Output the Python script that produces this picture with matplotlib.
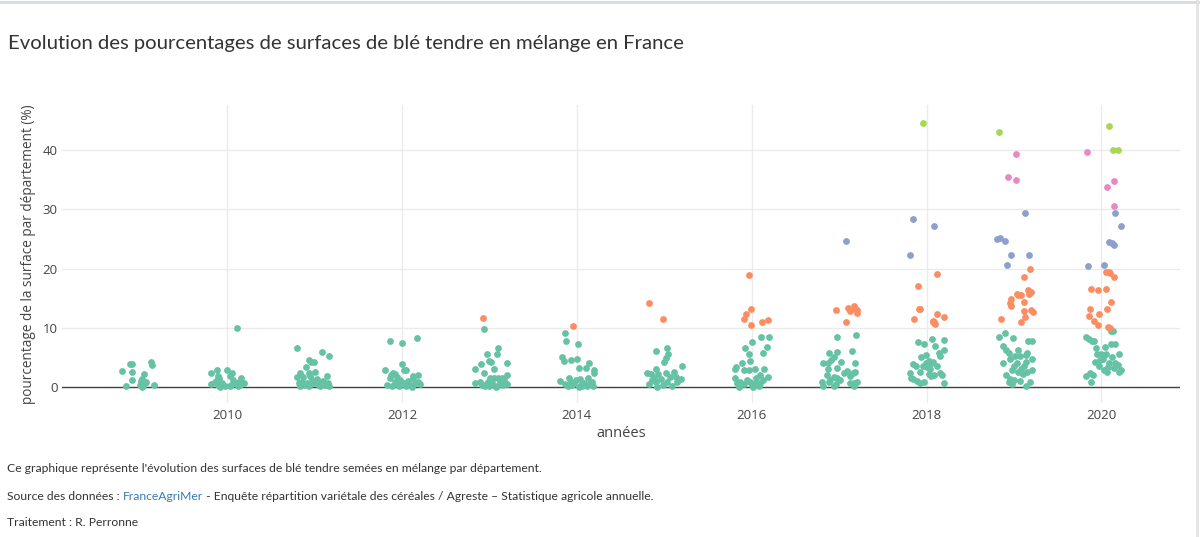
import matplotlib
matplotlib.use("Agg")
import matplotlib.pyplot as plt

# classes de pourcentage (palette Set2)
colors = {"0-10": "#66c2a5", "10-20": "#fc8d62", "20-30": "#8da0cb",
          "30-40": "#e78ac3", "40+": "#a6d854"}

years = [2009, 2010, 2011, 2012, 2013, 2014, 2015, 2016, 2017, 2018, 2019, 2020]

# (décalage horizontal, pourcentage)
g2009 = [(-0.20, 2.75), (-0.16, 0.2), (-0.11, 3.8), (-0.09, 3.8), (-0.09, 2.6), (-0.09, 1.1),
         (0.05, 2.2), (0.01, 1.0), (0.03, 1.3), (0.05, 0.8), (0.06, 0.6), (0.0, 0.4), (0.04, 0.1),
         (0.13, 4.3), (0.14, 3.7), (0.16, 0.4), (0.02, 0.0), (0.07, 0.9)]
g2010 = [(-0.19, 2.3), (-0.12, 2.8), (-0.11, 1.8), (0.0, 2.9), (0.06, 2.4), (0.11, 9.9), (0.16, 1.6),
         (0.13, 0.9), (0.19, 0.7), (0.03, 1.8), (0.07, 1.2), (-0.19, 0.5), (-0.14, 0.9), (-0.10, 0.3),
         (0.03, 0.2), (0.12, 0.1), (-0.08, 0.0), (-0.12, 1.2), (-0.09, 1.5), (-0.06, 0.6), (0.04, 0.4),
         (0.15, 0.3), (-0.03, 0.1), (0.09, 0.6)]
g2011 = [(-0.20, 6.6), (0.09, 5.9), (0.17, 5.3), (-0.07, 4.5), (-0.01, 4.2), (-0.04, 4.2), (-0.10, 3.4),
         (-0.17, 2.4), (-0.07, 2.4), (0.01, 2.6), (-0.20, 1.7), (-0.13, 1.7), (-0.05, 1.8), (0.03, 1.4),
         (0.14, 1.8), (0.08, 0.9), (-0.14, 0.9), (-0.09, 0.6), (-0.18, 0.7), (-0.01, 0.6), (0.045, 0.4),
         (0.12, 0.4), (0.16, 0.2), (-0.165, 0.2), (-0.06, 0.1), (-0.12, 0.4), (0.10, 1.0), (0.06, 0.2),
         (-0.03, 1.2), (0.15, 0.6)]
g2012 = [(-0.135, 7.7), (0.0, 7.4), (0.17, 8.2), (0.0, 3.9), (-0.19, 2.9), (0.025, 2.9), (0.05, 2.8),
         (-0.10, 2.4), (-0.13, 2.0), (-0.14, 1.5), (-0.06, 1.7), (-0.08, 0.9), (-0.02, 1.2), (0.13, 1.85),
         (0.185, 2.0), (0.18, 0.9), (0.02, 0.6), (0.09, 0.34), (0.15, 0.6), (-0.17, 0.34), (-0.115, 0.2),
         (-0.04, 0.3), (0.11, 0.06), (0.20, 0.5), (-0.05, 1.2), (-0.08, 2.2), (0.07, 1.0), (0.12, 1.5),
         (-0.03, 0.1), (0.05, 0.2)]
g2013 = [(-0.06, 9.85), (0.10, 6.6), (-0.025, 5.5), (0.09, 5.5), (-0.10, 3.9), (0.0, 4.4), (0.02, 4.3),
         (0.20, 4.05), (-0.17, 3.0), (-0.06, 2.3), (0.05, 3.1), (0.05, 1.6), (0.10, 1.6), (0.20, 2.0),
         (-0.17, 0.6), (-0.105, 0.9), (-0.01, 1.07), (0.146, 1.46), (0.17, 1.3), (0.12, 0.9), (0.03, 0.6),
         (-0.05, 0.17), (0.07, 0.06), (0.16, 0.34), (0.20, 0.5), (0.01, 1.46), (-0.08, 0.3), (0.0, 0.2),
         (0.09, 0.1), (0.13, 0.6), (-0.03, 0.7)]
g2014 = [(-0.14, 9.1), (-0.12, 7.7), (0.016, 7.3), (-0.17, 5.1), (-0.15, 4.4), (-0.07, 4.5), (0.0, 4.7),
         (0.14, 4.05), (0.03, 3.2), (0.10, 3.2), (0.195, 2.9), (0.2, 2.3), (0.13, 1.6), (0.04, 1.3),
         (-0.19, 1.07), (-0.09, 1.6), (-0.07, 0.9), (-0.007, 1.2), (0.077, 0.7), (0.15, 0.5), (-0.056, 0.34),
         (0.115, 0.17), (0.19, 0.17), (0.02, 0.06), (-0.13, 0.5), (-0.03, 0.6), (0.06, 0.2), (0.17, 0.9),
         (-0.10, 0.2), (0.05, 0.4)]
g2015 = [(0.03, 6.5), (-0.09, 6.0), (0.046, 5.5), (0.015, 4.9), (0.0, 4.3), (0.20, 3.55), (-0.10, 3.1),
         (0.11, 2.54), (-0.20, 2.43), (-0.15, 2.15), (-0.07, 2.2), (0.02, 2.4), (0.13, 1.63), (-0.12, 1.46),
         (-0.04, 1.3), (0.07, 1.63), (0.19, 1.3), (-0.175, 0.5), (-0.085, 0.06), (-0.015, 0.34), (0.09, 0.17),
         (0.145, 0.9), (0.03, 0.9), (-0.10, 0.9), (-0.14, 1.18)]
g2016 = [(0.11, 8.4), (0.20, 8.4), (0.0, 7.6), (-0.08, 6.6), (0.18, 6.8), (-0.035, 5.6), (0.13, 5.8),
         (-0.11, 4.1), (-0.015, 4.4), (-0.18, 3.3), (-0.19, 3.0), (-0.09, 2.8), (-0.03, 2.8), (0.04, 3.0),
         (0.14, 3.0), (0.09, 2.0), (0.05, 1.46), (0.13, 1.18), (0.19, 1.7), (-0.19, 1.46), (-0.13, 0.9),
         (-0.17, 0.62), (-0.055, 1.18), (0.04, 0.62), (0.08, 0.17), (0.0, 0.34), (0.10, 0.73), (-0.15, 0.06),
         (-0.09, 0.45), (0.02, 0.06), (-0.02, 0.9)]
g2017 = [(-0.025, 8.4), (0.19, 8.7), (0.15, 6.1), (-0.11, 5.7), (-0.025, 5.85), (-0.055, 5.1), (0.02, 4.2),
         (0.18, 4.0), (-0.18, 4.0), (-0.13, 4.0), (-0.09, 4.6), (-0.13, 3.0), (-0.025, 3.15), (0.09, 2.75),
         (0.06, 2.4), (0.16, 2.3), (0.185, 2.6), (-0.14, 2.0), (-0.055, 1.75), (-0.025, 1.47), (-0.10, 1.18),
         (0.015, 1.18), (0.12, 1.86), (-0.195, 0.9), (-0.11, 0.9), (-0.04, 0.51), (0.165, 0.73), (0.20, 0.9),
         (-0.18, 0.17), (-0.055, 0.17), (0.17, 0.17), (0.12, 0.62)]
g2018 = [(-0.10, 7.6), (-0.025, 7.26), (0.066, 8.05), (0.20, 7.9), (0.10, 6.9), (0.20, 6.3), (-0.06, 5.1),
         (-0.01, 5.35), (0.14, 5.8), (0.16, 5.2), (0.03, 4.45), (0.08, 4.3), (-0.01, 4.0), (0.12, 3.55),
         (-0.15, 3.9), (-0.125, 3.55), (-0.185, 2.3), (-0.18, 1.58), (0.0, 3.43), (0.03, 2.2), (0.05, 1.9),
         (0.09, 2.0), (0.18, 1.97), (-0.11, 1.07), (-0.07, 0.62), (-0.025, 0.9), (0.195, 0.62), (-0.16, 1.3),
         (0.04, 3.0), (-0.04, 3.6), (0.06, 4.0), (0.15, 2.3), (-0.08, 2.6)]
g2019 = [(-0.167, 8.45), (-0.106, 9.1), (-0.007, 8.2), (0.157, 7.7), (0.21, 7.7), (-0.13, 7.0), (-0.087, 6.25),
         (-0.06, 5.7), (0.05, 6.25), (0.15, 5.8), (0.14, 5.35), (0.21, 4.8), (0.016, 5.24), (0.073, 5.24),
         (-0.05, 4.67), (0.04, 4.1), (0.134, 4.2), (0.0, 3.55), (0.12, 3.55), (-0.13, 4.0), (0.21, 2.87),
         (0.15, 2.6), (0.10, 2.2), (0.047, 2.5), (-0.095, 2.0), (0.0, 1.18), (0.065, 0.96), (-0.06, 0.9),
         (-0.02, 0.5), (0.14, 0.17), (0.18, 0.84), (-0.04, 1.3), (0.08, 3.0), (-0.02, 2.9)]
g2020 = [(0.11, 9.5), (0.13, 9.4), (-0.17, 8.4), (-0.14, 8.05), (-0.11, 7.8), (-0.08, 7.8), (0.11, 7.26),
         (0.16, 7.26), (-0.06, 6.5), (0.04, 6.75), (-0.05, 5.6), (0.0, 5.6), (0.057, 5.5), (0.12, 5.1),
         (0.20, 5.6), (-0.02, 4.56), (0.02, 4.67), (0.09, 4.1), (0.16, 4.0), (0.19, 3.7), (-0.07, 4.3),
         (-0.03, 3.55), (0.034, 2.87), (0.08, 3.3), (0.14, 3.15), (0.20, 2.6), (0.065, 2.6), (0.22, 2.87),
         (-0.17, 1.86), (-0.13, 2.4), (-0.09, 2.0), (-0.12, 0.8)]

o2013 = [(-0.07, 11.65)]
o2014 = [(-0.04, 10.25)]
o2015 = [(-0.17, 14.2), (-0.02, 11.55)]
o2016 = [(-0.025, 18.9), (-0.06, 12.4), (-0.01, 13.2), (-0.085, 11.55), (-0.01, 10.4), (0.12, 10.9), (0.19, 11.3)]
o2017 = [(-0.03, 12.95), (0.10, 13.4), (0.12, 12.9), (0.17, 13.6), (0.20, 13.0), (0.20, 12.5), (0.075, 11.0),
         (0.18, 13.4)]
o2018 = [(0.12, 19.1), (-0.10, 17.06), (-0.09, 13.2), (-0.07, 13.1), (-0.14, 11.5), (0.12, 12.3), (0.20, 11.9),
         (0.07, 11.2), (0.09, 10.9), (0.10, 10.6), (0.07, 10.9)]
o2019 = [(0.18, 19.9), (0.115, 18.6), (0.16, 16.3), (0.19, 16.0), (0.17, 15.65), (0.03, 15.65), (0.08, 15.5),
         (0.05, 15.6), (-0.03, 14.9), (0.11, 14.4), (-0.05, 14.1), (-0.03, 13.7), (0.115, 12.8), (0.19, 12.95),
         (0.215, 12.7), (0.13, 11.9), (0.085, 11.0), (-0.145, 11.4)]
o2020 = [(0.055, 19.4), (0.083, 19.4), (0.10, 19.3), (0.14, 18.6), (-0.12, 16.6), (-0.04, 16.4), (0.057, 16.6),
         (0.11, 14.3), (-0.13, 13.2), (-0.03, 12.4), (0.06, 13.2), (-0.145, 12.0), (-0.08, 11.2), (-0.04, 10.4),
         (0.076, 10.05), (0.095, 9.9)]

b2017 = [(0.08, 24.7)]
b2018 = [(-0.15, 28.4), (0.09, 27.25), (-0.185, 22.2)]
b2019 = [(0.13, 29.3), (-0.19, 24.9), (-0.155, 25.2), (-0.10, 24.6), (-0.03, 22.2), (0.17, 22.3), (-0.08, 20.6)]
b2020 = [(0.16, 29.4), (0.22, 27.2), (0.085, 24.5), (0.12, 24.3), (0.15, 24.0), (-0.15, 20.5), (0.03, 20.65)]

p2019 = [(0.02, 39.3), (-0.07, 35.4), (0.02, 35.0)]
p2020 = [(-0.165, 39.7), (0.15, 34.8), (0.07, 33.7), (0.14, 30.5)]

l2018 = [(-0.04, 44.5)]
l2019 = [(-0.165, 43.1)]
l2020 = [(0.09, 44.0), (0.13, 40.0), (0.19, 40.0)]

series = [
    ("0-10", {2009: g2009, 2010: g2010, 2011: g2011, 2012: g2012, 2013: g2013, 2014: g2014,
              2015: g2015, 2016: g2016, 2017: g2017, 2018: g2018, 2019: g2019, 2020: g2020}),
    ("10-20", {2013: o2013, 2014: o2014, 2015: o2015, 2016: o2016, 2017: o2017, 2018: o2018,
               2019: o2019, 2020: o2020}),
    ("20-30", {2017: b2017, 2018: b2018, 2019: b2019, 2020: b2020}),
    ("30-40", {2019: p2019, 2020: p2020}),
    ("40+", {2018: l2018, 2019: l2019, 2020: l2020}),
]

plt.rcParams["font.family"] = ["Open Sans", "DejaVu Sans"]
fig = plt.figure(figsize=(12, 5.37), dpi=100)
ax = fig.add_axes([62 / 1200, 1 - 403 / 537, (1180 - 62) / 1200, (403 - 105) / 537])

for cls, data in series:
    xs, ys = [], []
    for yr, pts in data.items():
        for dx, v in pts:
            xs.append(yr + dx)
            ys.append(v)
    ax.scatter(xs, ys, s=24, color=colors[cls], linewidths=0, zorder=3)

ax.set_xlim(2008.11, 2020.9)
ax.set_ylim(-2.7, 47.6)
ax.set_xticks([2010, 2012, 2014, 2016, 2018, 2020])
ax.set_yticks([0, 10, 20, 30, 40])
ax.grid(True, color="#ebebeb", linewidth=1)
ax.axhline(0, color="#444444", linewidth=1, zorder=2)
for s in ax.spines.values():
    s.set_visible(False)
ax.tick_params(length=0, labelsize=9.5, colors="#444444", pad=4)
ax.tick_params(axis="y", pad=3)
ax.set_xlabel("années", fontsize=10.5, color="#444444", labelpad=3)
ax.set_ylabel("pourcentage de la surface par département (%)", fontsize=9.8, color="#444444", labelpad=5)

fig.text(8 / 1200, 1 - 44 / 537, "Evolution des pourcentages de surfaces de blé tendre en mélange en France",
         fontsize=14.6, color="#333333", va="center", family=["Lato", "DejaVu Sans"])

fs = 8.7
foot = dict(fontsize=fs, color="#333333", va="center", family=["Lato", "DejaVu Sans"])
fig.text(7 / 1200, 1 - 469 / 537,
         "Ce graphique représente l'évolution des surfaces de blé tendre semées en mélange par département.", **foot)
t1 = fig.text(7 / 1200, 1 - 496 / 537, "Source des données : ", **foot)
t2 = ax.annotate("FranceAgriMer", xy=(1, 0.5), xycoords=t1, va="center", ha="left",
                 fontsize=fs, color="#337ab7", family=["Lato", "DejaVu Sans"], annotation_clip=False)
ax.annotate(" - Enquête répartition variétale des céréales / Agreste \u2013 Statistique agricole annuelle.",
            xy=(1, 0.5), xycoords=t2, va="center", ha="left", fontsize=fs, color="#333333",
            family=["Lato", "DejaVu Sans"], annotation_clip=False)
fig.text(7 / 1200, 1 - 523 / 537, "Traitement : R. Perronne", **foot)

# bordure claire du panneau
fig.add_artist(plt.Line2D([0, 1], [0.997, 0.997], color="#d5dae6", linewidth=2, transform=fig.transFigure))
fig.add_artist(plt.Line2D([0.9975, 0.9975], [0, 1], color="#e4e4e4", linewidth=2, transform=fig.transFigure))

fig.savefig("out.png", dpi=100)
